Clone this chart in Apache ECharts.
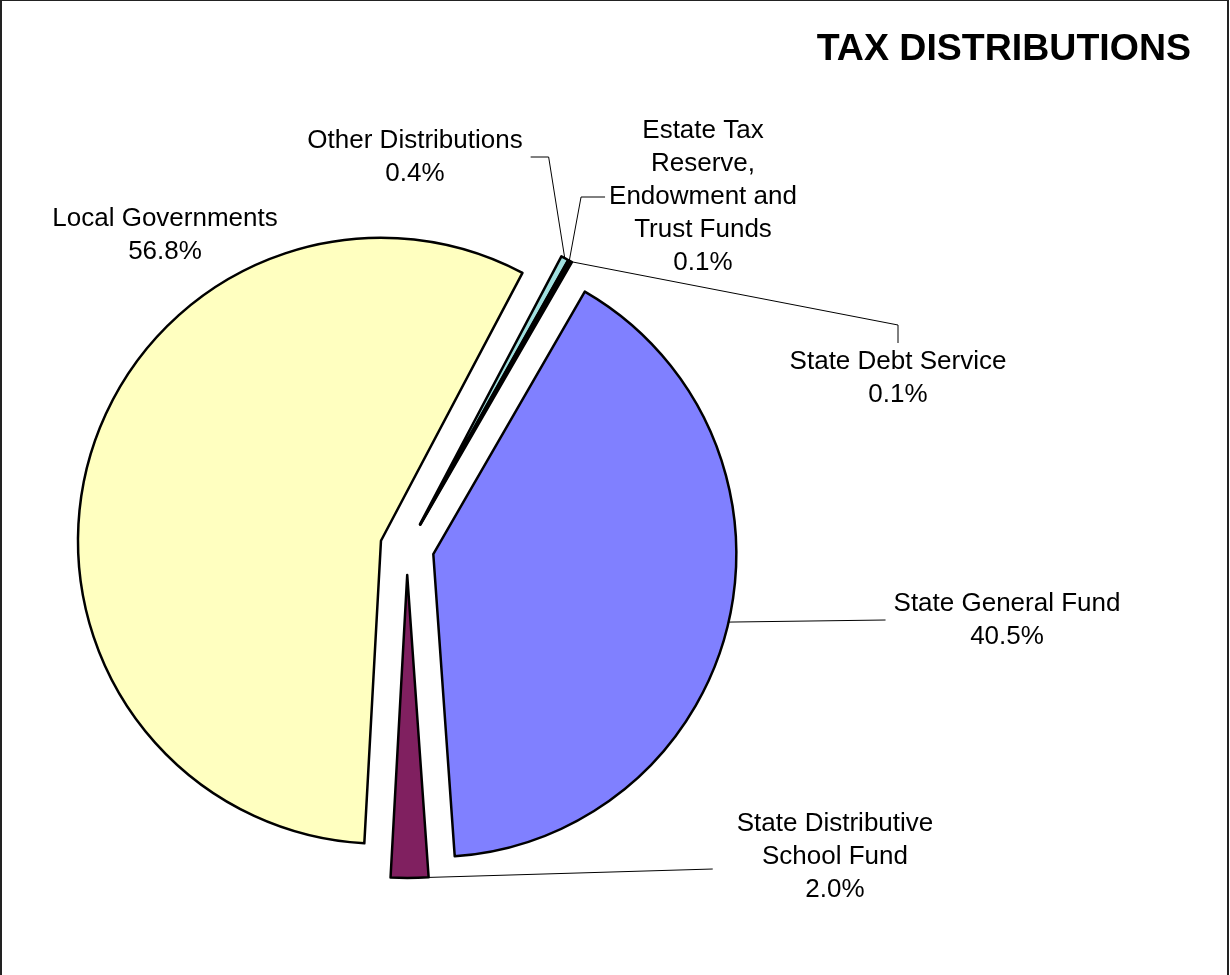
<!DOCTYPE html>
<html>
<head>
<meta charset="utf-8">
<style>
  html, body { margin: 0; padding: 0; background: #fff; }
  #chart { width: 1230px; height: 975px; }
</style>
<script src="https://cdn.jsdelivr.net/npm/echarts@6/dist/echarts.min.js"></script>
</head>
<body>
<div id="chart"></div>
<script>
// Share of tax distributions, in percent, in slice order (clockwise from the first slice)
const categories = [
  'State General Fund',
  'State Distributive\nSchool Fund',
  'Local Governments',
  'Other Distributions',
  'Estate Tax\nReserve,\nEndowment and\nTrust Funds',
  'State Debt Service'
];
const shares = [40.5, 2.0, 56.8, 0.4, 0.1, 0.1];

// Slice fills
const sliceColors = ['#8080FF', '#802060', '#FFFFC0', '#A0E0E0', '#600080', '#FF8080'];

// Where each label sits (centre of the text block) and how its leader line runs
const labelSpots = [[1007, 620], [835, 857], [165, 235], [415, 157], [703, 197], [898, 378]];
const guideKinds = ['left', 'leftLow', 'none', 'rightElbow', 'leftElbow', 'topElbow'];

const FONT = 'Arial, "Liberation Sans", sans-serif';
const PIE_CENTER = [407, 548];
const PIE_RADIUS = 303;
const START_ANGLE = 60;
const EXPLODE = 27;

function guidePoints(kind, p0, box) {
  switch (kind) {
    case 'left':
      return [p0, [box.left - 8, box.cy], [box.left - 8, box.cy]];
    case 'leftLow':
      return [p0, [box.left - 24, box.cy + 12], [box.left - 24, box.cy + 12]];
    case 'rightElbow':
      return [p0, [box.right + 26, box.cy], [box.right + 8, box.cy]];
    case 'leftElbow':
      return [p0, [box.left - 28, box.cy], [box.left - 4, box.cy]];
    case 'topElbow':
      return [p0, [box.cx, box.top - 20], [box.cx, box.top - 2]];
    default:
      return null;
  }
}

const chart = echarts.init(document.getElementById('chart'), null, { renderer: 'canvas' });

// Exploded slices
const sliceData = categories.map((name, i) => ({
  name: name,
  value: shares[i],
  selected: true,
  itemStyle: { color: sliceColors[i] }
}));

// Same slices, invisible, carrying the labels and leader lines
const labelData = categories.map((name, i) => ({
  name: name,
  value: shares[i],
  labelLine: { show: guideKinds[i] !== 'none' }
}));

chart.setOption({
  animation: false,
  backgroundColor: '#fff',
  title: {
    text: 'TAX DISTRIBUTIONS',
    right: 34,
    top: 26,
    textStyle: { fontFamily: FONT, fontSize: 37.5, fontWeight: 'bold', color: '#000' }
  },
  graphic: [{
    type: 'rect',
    shape: { x: 1, y: 0, width: 1227, height: 990 },
    style: { fill: 'none', stroke: '#222', lineWidth: 2 },
    silent: true,
    z: 100
  }],
  series: [{
    type: 'pie',
    center: PIE_CENTER,
    radius: PIE_RADIUS,
    startAngle: START_ANGLE,
    clockwise: true,
    selectedMode: 'multiple',
    selectedOffset: EXPLODE,
    emphasis: { disabled: true },
    itemStyle: { borderColor: '#000', borderWidth: 2.5 },
    label: { show: false },
    labelLine: { show: false },
    data: sliceData
  }, {
    type: 'pie',
    silent: true,
    center: PIE_CENTER,
    radius: PIE_RADIUS,
    startAngle: START_ANGLE,
    clockwise: true,
    selectedMode: false,
    avoidLabelOverlap: false,
    emphasis: { disabled: true },
    itemStyle: { color: 'rgba(0,0,0,0)', borderWidth: 0 },
    label: {
      show: true,
      position: 'outside',
      fontFamily: FONT,
      fontSize: 26,
      lineHeight: 33,
      color: '#000',
      align: 'center',
      formatter: p => p.name + '\n' + p.value.toFixed(1) + '%'
    },
    labelLine: {
      show: true,
      lineStyle: { color: '#000', width: 1 }
    },
    labelLayout: function (params) {
      const i = params.dataIndex;
      const spot = labelSpots[i];
      const w = params.labelRect.width;
      const h = params.labelRect.height;
      const box = {
        cx: spot[0], cy: spot[1],
        left: spot[0] - w / 2, right: spot[0] + w / 2,
        top: spot[1] - h / 2, bottom: spot[1] + h / 2
      };
      const out = { x: spot[0], y: spot[1], align: 'center', verticalAlign: 'middle' };
      const edge = params.labelLinePoints && params.labelLinePoints[0];
      if (edge) {
        // push the slice-edge anchor outward by the explode distance
        const vx = edge[0] - PIE_CENTER[0];
        const vy = edge[1] - PIE_CENTER[1];
        const len = Math.sqrt(vx * vx + vy * vy) || 1;
        const p0 = [edge[0] + vx / len * EXPLODE, edge[1] + vy / len * EXPLODE];
        const pts = guidePoints(guideKinds[i], p0, box);
        if (pts) out.labelLinePoints = pts;
      }
      return out;
    },
    data: labelData
  }]
});
</script>
</body>
</html>
